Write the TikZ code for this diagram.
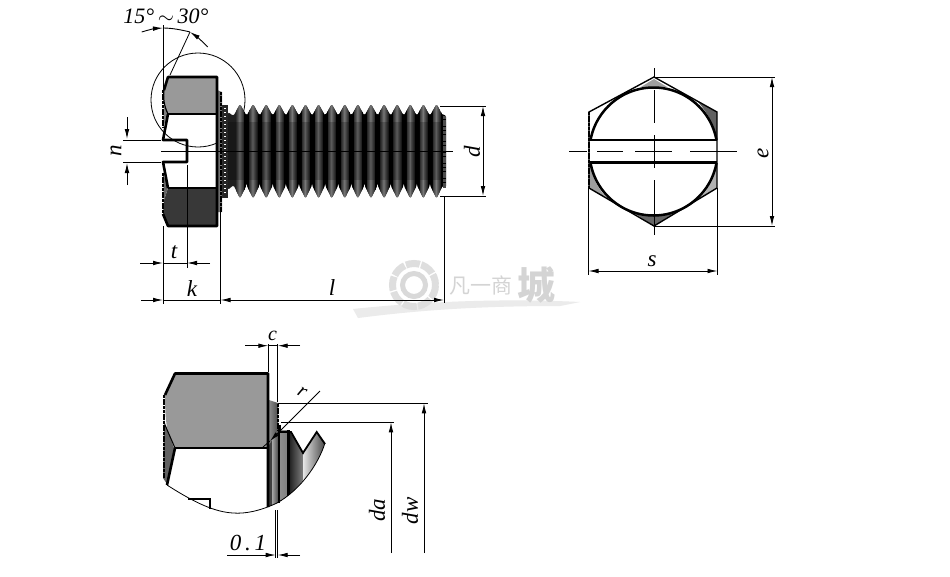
\documentclass[tikz,border=0pt]{standalone}
\usepackage{fontspec}
\setmainfont{Liberation Serif}
\newfontfamily\cjkf{Noto Sans CJK SC}
\usetikzlibrary{arrows.meta}
\tikzset{
  dimline/.style={line width=0.9pt,black},
  tipend/.style={dimline,-{Latex[length=10pt,width=4.6pt]}},
  tipboth/.style={dimline,{Latex[length=10pt,width=4.6pt]}-{Latex[length=10pt,width=4.6pt]}},
  outline/.style={line width=2.6pt,black,line join=round},
  thinline/.style={line width=0.8pt,black},
  lab/.style={font=\itshape\fontsize{23}{23}\selectfont,inner sep=0pt},
  wm/.style={font=\cjkf\fontsize{21}{21}\selectfont,text=black!17,inner sep=0pt},
  stipple/.style={line width=2.4pt,black,dash pattern=on 3pt off 0.7pt}
}
\begin{document}
\begin{tikzpicture}[x=1pt,y=-1pt]
\useasboundingbox (0,0) rectangle (950,576);
\fill[white] (0,0) rectangle (950,576);
% watermark
\fill[black!8] (353,309) .. controls (420,302) and (500,298) .. (580,302) -- (560,306) .. controls (480,306) and (420,310) .. (358,318) -- cycle;
\draw[black!13,line width=7pt,dash pattern=on 14pt off 1.5pt] (414,285) circle (21.5);
\draw[black!15,line width=5pt] (414,285) circle (11.5);
\node[wm] (wmtext) at (481,286) {凡一商};
\node[wm,font=\cjkf\bfseries\fontsize{38}{38}\selectfont] (wmcity) at (536,285) {城};
% big detail circle (behind)
\draw[thinline] (198,100) circle (47);
% threads
\begin{scope}
\clip[rounded corners=2pt] (228,112) -- (228,190)
  \foreach \k in {0,...,15} { -- ({240+13.1*\k-6.55},185) -- ({240+13.1*\k},198.5) -- ({240+13.1*\k+6.55},185)}
  -- (446,188) -- (446,115)
  \foreach \k in {15,14,...,0} { -- ({240+13.1*\k+6.55},116) -- ({240+13.1*\k},104) -- ({240+13.1*\k-6.55},116)}
  -- cycle;
\fill[black!88] (224,100) rectangle (448,200);
\foreach \k in {0,...,15} {
  \shade[left color=black!78,right color=black!45] ({233.45+13.1*\k+3},100) rectangle ({233.45+13.1*\k+7},200);
  \shade[left color=black!62,right color=black!92] ({233.45+13.1*\k+7},100) rectangle ({233.45+13.1*\k+11},200);
  \fill[black] ({233.45+13.1*\k+11},100) rectangle ({233.45+13.1*\k+16.1},200);
}
\fill[black,opacity=0.22] (224,122) rectangle (448,180);
\end{scope}
\fill[black!85] (222,105) rectangle (228,198);
\draw[white,line width=2.2pt,dash pattern=on 1pt off 3pt] (225,108) -- (225,196);
\draw[stipple,black!70] (444.5,116) -- (444.5,188);
% flange
\fill[black!55] (217,90) -- (222,92) -- (222,212) -- (217,212) -- cycle;
\draw[stipple] (221,92) -- (221,212);
% head faces
\fill[black!40] (168,77) -- (216,77) -- (216,114) -- (168,114) .. controls (164,106) and (163,98) .. (164,90) -- cycle;
\fill[black!78] (168,188) -- (216,188) -- (216,226) -- (168,226) -- (163,214) -- (164,200) -- cycle;
\fill[black!50] (163,128) -- (168,114) -- (164,105) -- cycle;
\fill[black!60] (163,173) -- (168,188) -- (164,200) -- cycle;
\draw[outline] (164,90) -- (168,77) -- (217,77) -- (217,226) -- (168,226) -- (163,214);
\draw[outline] (168,114) -- (217,114);
\draw[outline] (168,188) -- (217,188);
\draw[stipple] (163,90) -- (163,128);
\draw[stipple] (163,173) -- (163,214);
\draw[outline] (168,114) -- (163,140) -- (187,140) -- (187,162) -- (163,162) -- (168,188);
\draw[line width=1.2pt,black] (164,90) .. controls (163,98) and (164,106) .. (168,114);
% centre line
\draw[thinline] (161,151.5) -- (453,151.5);
% n
\coordinate (nA) at (127,117); \coordinate (nB) at (127,139); \coordinate (nC) at (127,163); \coordinate (nD) at (127,185);
\draw[tipend] (nA) -- (nB);
\draw[tipend] (nD) -- (nC);
\draw[thinline] (123,140) -- (161,140);
\draw[thinline] (123,162) -- (161,162);
\node[lab,rotate=90] (labn) at (116,151) {n};
% t
\coordinate (tA) at (140,263); \coordinate (tB) at (163,263); \coordinate (tC) at (187,263); \coordinate (tD) at (210,263);
\draw[tipend] (tA) -- (tB);
\draw[tipend] (tD) -- (tC);
\draw[dimline] (tB) -- (tC);
\draw[thinline] (187,165) -- (187,268);
\node[lab] (labt) at (174,252) {t};
% k, l
\coordinate (kA) at (141,300); \coordinate (kB) at (163,300); \coordinate (kC) at (220.5,300); \coordinate (kD) at (444,300);
\draw[tipend] (kA) -- (kB);
\draw[dimline] (kB) -- (kC);
\draw[tipboth] (kC) -- (kD);
\draw[thinline] (163,226) -- (163,304);
\draw[thinline] (220.5,212) -- (220.5,304);
\draw[thinline] (444.5,196) -- (444.5,303);
\node[lab] (labk) at (192,289) {k};
\node[lab] (labl) at (332,288) {l};
% d
\coordinate (dA) at (483,106); \coordinate (dB) at (483,196);
\draw[tipboth] (dA) -- (dB);
\draw[thinline] (440,106) -- (486,106);
\draw[thinline] (440,196) -- (486,196);
\node[lab,rotate=90] (labd) at (472,152) {d};
% angle
\draw[thinline] (163.3,25) -- (163.3,90);
\draw[thinline] (190,32) -- (170,75);
\coordinate (aL) at (141.7,32); \coordinate (aM) at (163,28); \coordinate (aR) at (190,32); \coordinate (aE) at (207.7,47);
\draw[tipend] (aL) .. controls (148,30) and (155,28.5) .. (aM);
\draw[tipend] (aE) .. controls (202,41) and (196,36) .. (aR);
\draw[dimline] (aM) .. controls (172,28) and (182,30) .. (aR);
\node[lab,font=\itshape\fontsize{22}{22}\selectfont] (lab15) at (166,16) {15°\,$\sim$\,30°};
% ===== hexagon view
\fill[black!38] (654,79) -- (640,87.5) .. controls (649,86.5) and (659,86.5) .. (668,87.5) -- cycle;
\fill[black!62] (698,102) -- (717,112) -- (717,140) .. controls (715,127) and (708,113) .. (698,102) -- cycle;
\fill[black!38] (590,163) -- (589,188) -- (608,199) .. controls (598,190) and (592,176) .. (590,163) -- cycle;
\fill[black!30] (717,163) -- (717,188) -- (700,198) .. controls (709,189) and (715,175) .. (717,163) -- cycle;
\fill[black!60] (654,226) -- (634,213) .. controls (647,217) and (661,217) .. (674,213) -- cycle;
\draw[line width=1.4pt,black] (654,77) -- (717,112) -- (717,188) -- (654,226) -- (589,188) -- (589,112) -- cycle;
\begin{scope}
\clip (580,70) rectangle (730,140) (580,163) rectangle (730,230);
\draw[line width=2.5pt,black] (653.5,151.5) circle (64);
\end{scope}
\draw[line width=2.6pt,black] (590,140) -- (717,140);
\draw[line width=2.6pt,black] (590,162.7) -- (717,162.7);
\draw[stipple] (589,112) -- (589,188);
\draw[thinline] (569,151) -- (587,151) (597,151) -- (623,151) (635,151) -- (672,151) (690,151) -- (737,151);
\draw[thinline] (654,68) -- (654,78) (654,90) -- (654,123) (654,135) -- (654,168) (654,180) -- (654,235);
% s
\coordinate (sA) at (588.5,271); \coordinate (sB) at (717.5,271);
\draw[tipboth] (sA) -- (sB);
\draw[thinline] (588.5,188) -- (588.5,275);
\draw[thinline] (717.5,188) -- (717.5,275);
\node[lab] (labs) at (652,261) {s};
% e
\coordinate (eA) at (772,77); \coordinate (eB) at (772,226);
\draw[tipboth] (eA) -- (eB);
\draw[thinline] (654,77) -- (775,77);
\draw[thinline] (654,226) -- (775,226);
\node[lab,rotate=90] (labe) at (763,153) {e};
% ===== detail view
\begin{scope}
\clip (160,370) -- (330,370) -- (330,443) -- (325,443) .. controls (318,465) and (300,490) .. (277,503) .. controls (260,511) and (245,514) .. (233,513) .. controls (215,512) and (195,503) .. (167,485) -- (160,480) -- cycle;
\fill[black!75] (268,432) rectangle (291,510);
\shade[left color=black!35,right color=black!70] (272,425) rectangle (278,510);
\fill[black] (278,425) rectangle (280.5,510);
\shade[left color=black!45,middle color=black!8,right color=black!50] (280.5,430) rectangle (287,510);
\fill[black] (287,430) rectangle (290,510);
\shade[left color=black!85,right color=black!50] (290,432) -- (303,453) -- (303,480) -- (290,500) -- cycle;
\shade[left color=black!10,right color=black!75] (303,453) -- (317,432) -- (326,444) -- (326,460) -- (303,490) -- cycle;
\end{scope}
\shade[left color=black!45,right color=black!70] (269,400) -- (278,403) -- (278,430) -- (269,445) -- cycle;
\fill[black!40] (175,373) -- (268,373) -- (268,448) -- (175,448) .. controls (169,438) and (165,430) .. (165,395) -- cycle;
\fill[black!62] (164,420) -- (174,448) -- (167,484) -- (163,478) -- cycle;
\draw[outline] (165,395) -- (175,373.5) -- (268,373.5) -- (268,507);
\draw[outline] (175,448) -- (268,448);
\draw[outline] (175,448) -- (167,485);
\draw[stipple] (164,395) -- (164,478);
\draw[line width=1pt,black] (165,425) -- (175,448);
\draw[stipple] (278,404) -- (278,430);
\draw[line width=1.8pt,black] (278,432) -- (291,432) -- (303,453) -- (316.7,432) -- (325,444);
\draw[stipple] (279,430) -- (279,503);
\draw[line width=2pt,black] (288,432) -- (288,495);
\draw[thinline] (167,485) .. controls (195,503) and (215,512) .. (233,513) .. controls (245,514) and (260,511) .. (277,503) .. controls (300,490) and (318,465) .. (325,443);
\draw[line width=1.6pt,black] (188,499) -- (210,499) -- (210,509);
% c
\coordinate (cA) at (245,345.7); \coordinate (cB) at (268.3,345.7); \coordinate (cC) at (277.7,345.7); \coordinate (cD) at (300,345.7);
\draw[tipend] (cA) -- (cB);
\draw[tipend] (cD) -- (cC);
\draw[dimline] (cB) -- (cC);
\draw[thinline] (268.3,344) -- (268.3,372);
\draw[thinline] (277.7,344) -- (277.7,402);
\node[lab,font=\itshape\fontsize{20}{20}\selectfont] (labc) at (272.5,336) {c};
% r
\coordinate (rA) at (320,391); \coordinate (rB) at (270,441);
\draw[tipend] (rA) -- (rB);
\draw[thinline] (270,441) -- (263,447);
\node[lab,font=\itshape\fontsize{20}{20}\selectfont,rotate=-30] (labr) at (302,392) {r};
% da dw
\coordinate (wA) at (424,403.3); \coordinate (wB) at (424,553);
\coordinate (aA) at (391,422.3); \coordinate (aB) at (391,553);
\draw[thinline] (278,403.3) -- (428,403.3);
\draw[thinline] (281,422.3) -- (394,422.3);
\draw[tipend] (wB) -- (wA);
\draw[tipend] (aB) -- (aA);
\node[lab,rotate=90] (labda) at (377,510) {da};
\node[lab,rotate=90] (labdw) at (410,511) {dw};
% 0.1
\coordinate (zA) at (227,555); \coordinate (zB) at (275.7,555); \coordinate (zC) at (277.7,555); \coordinate (zD) at (300,555);
\draw[tipend] (zA) -- (zB);
\draw[tipend] (zD) -- (zC);
\draw[thinline] (275.7,510) -- (275.7,558);
\draw[thinline] (277.7,510) -- (277.7,558);
\node[lab] (lab01) at (248,543) {0\,.\,1};
\end{tikzpicture}
\end{document}
